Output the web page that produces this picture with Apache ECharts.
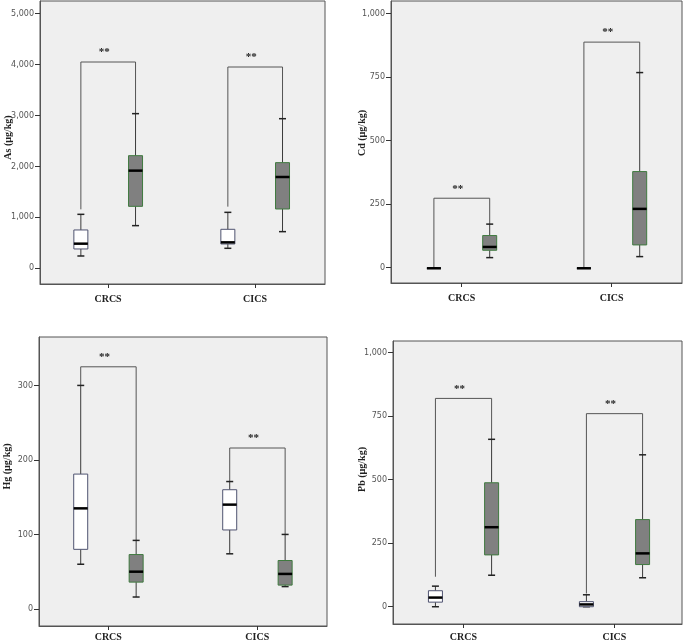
<!DOCTYPE html>
<html><head><meta charset="utf-8">
<script src="https://cdn.jsdelivr.net/npm/echarts@6/dist/echarts.min.js"></script>
<style>html,body{margin:0;padding:0;background:#fff}#c{width:685px;height:643px}</style>
</head><body><div id="c"></div>
<script>
const categories = ['CRCS', 'CICS'];
const axisNames = ['As (µg/kg)', 'Cd (µg/kg)', 'Hg (µg/kg)', 'Pb (µg/kg)'];
// box values per category: [min, Q1, median, Q3, max]
const asWhite = [[242, 380, 484, 753, 1060], [393, 478, 510, 766, 1099]];
const asGrey  = [[838, 1217, 1918, 2212, 3037], [720, 1165, 1793, 2075, 2938]];
const cdWhite = [[-3, -3, -3, -3, -3], [-3, -3, -3, -3, -3]];
const cdGrey  = [[39, 68, 81, 126, 171], [43, 89, 231, 378, 768]];
const hgWhite = [[60, 80, 135, 181, 300], [74, 106, 140, 160, 171]];
const hgGrey  = [[16, 36, 50, 73, 92], [30, 32, 47, 65, 100]];
const pbWhite = [[0, 18, 36, 63, 81], [0, 0, 9, 20, 47]];
const pbGrey  = [[124, 204, 313, 488, 659], [114, 166, 210, 343, 598]];
// significance brackets per category: [top, left leg end, right leg end]
const asSig = [[4051, 1158, 3037], [3953, 1211, 2938]];
const cdSig = [[273, 0, 171], [888, 0, 768]];
const hgSig = [[325, 300, 92], [216, 171, 100]];
const pbSig = [[820, 118, 659], [760, 52, 598]];
const sigLabel = '**';
// tick labels
const asTicks = [0, 1000, 2000, 3000, 4000, 5000];
const cdTicks = [0, 250, 500, 750, 1000];
const hgTicks = [0, 100, 200, 300];
const pbTicks = [0, 250, 500, 750, 1000];

const panels = [
  {white: asWhite, grey: asGrey, sig: asSig, ticks: asTicks, name: axisNames[0],
   grid: {left: 40, top: 1, width: 285, height: 283}, x: [0.537, 2.476], y: [-308, 5249],
   shift: 10, nameGap: 27, catMargin: 10},
  {white: cdWhite, grey: cdGrey, sig: cdSig, ticks: cdTicks, name: axisNames[1],
   grid: {left: 391, top: 1, width: 291, height: 282}, x: [0.529, 2.469], y: [-61, 1050],
   shift: 18, nameGap: 24, catMargin: 10},
  {white: hgWhite, grey: hgGrey, sig: hgSig, ticks: hgTicks, name: axisNames[2],
   grid: {left: 39, top: 337, width: 288, height: 289}, x: [0.535, 2.468], y: [-22.9, 365],
   shift: 30, nameGap: 27, catMargin: 6},
  {white: pbWhite, grey: pbGrey, sig: pbSig, ticks: pbTicks, name: axisNames[3],
   grid: {left: 393, top: 341, width: 289, height: 283}, x: [0.534, 2.448], y: [-68, 1046],
   shift: 26, nameGap: 26, catMargin: 8}
];

const OFF_W = -0.185, OFF_G = 0.187, BOX_W = 14, CAP_W = 7;

function boxRenderer(fill, border) {
  return function (params, api) {
    const cat = api.value(0);
    const px = (v) => api.coord([cat, v]);
    const mn = px(api.value(1)), q1 = px(api.value(2)), md = px(api.value(3)),
          q3 = px(api.value(4)), mx = px(api.value(5));
    const x = mn[0];
    const h = BOX_W / 2, c = CAP_W / 2;
    const wStyle = {stroke: '#3a3a3a', lineWidth: 1};
    return {type: 'group', children: [
      {type: 'line', shape: {x1: x, y1: q3[1], x2: x, y2: mx[1]}, style: wStyle},
      {type: 'line', shape: {x1: x, y1: q1[1], x2: x, y2: mn[1]}, style: wStyle},
      {type: 'line', shape: {x1: x - c, y1: mx[1], x2: x + c, y2: mx[1]}, style: {stroke: '#222', lineWidth: 1.5}},
      {type: 'line', shape: {x1: x - c, y1: mn[1], x2: x + c, y2: mn[1]}, style: {stroke: '#222', lineWidth: 1.5}},
      {type: 'rect', shape: {x: x - h, y: q3[1], width: BOX_W, height: q1[1] - q3[1]},
       style: {fill: fill, stroke: border, lineWidth: 1}},
      {type: 'line', shape: {x1: x - h, y1: md[1], x2: x + h, y2: md[1]}, style: {stroke: '#000', lineWidth: 2.5}}
    ]};
  };
}

function sigRenderer(params, api) {
  const cat = api.value(0);
  const top = api.coord([cat + OFF_W, api.value(1)]);
  const l = api.coord([cat + OFF_W, api.value(2)]);
  const r = api.coord([cat + OFF_G, api.value(3)]);
  const tr = api.coord([cat + OFF_G, api.value(1)]);
  return {type: 'group', children: [
    {type: 'polyline', shape: {points: [[l[0], l[1]], [top[0], top[1]], [tr[0], tr[1]], [r[0], r[1]]]},
     style: {stroke: '#555', lineWidth: 1, fill: null}},
    {type: 'text', x: (top[0] + tr[0]) / 2 - 4, y: top[1] - 4,
     style: {text: sigLabel, fill: '#222', font: 'bold 11px "Liberation Serif"', align: 'center', verticalAlign: 'bottom'}}
  ]};
}

const grid = [], xAxis = [], yAxis = [], series = [];
panels.forEach((p, i) => {
  grid.push(Object.assign({show: true, backgroundColor: '#efefef', borderColor: '#555', borderWidth: 1,
    containLabel: false, outerBoundsMode: 'none'}, p.grid));
  xAxis.push({
    type: 'value', gridIndex: i, min: p.x[0], max: p.x[1],
    axisLine: {show: true, onZero: false, lineStyle: {color: '#555'}},
    axisTick: {show: true, length: 4, customValues: [1, 2], lineStyle: {color: '#333'}},
    axisLabel: {customValues: [1, 2], formatter: (v) => categories[Math.round(v) - 1] || '',
      margin: p.catMargin, color: '#222', fontFamily: 'Liberation Serif', fontWeight: 'bold', fontSize: 10},
    splitLine: {show: false}
  });
  yAxis.push({
    type: 'value', gridIndex: i, min: p.y[0], max: p.y[1],
    name: p.name, nameLocation: 'middle', nameGap: p.nameGap, nameMoveOverlap: false,
    nameTextStyle: {fontFamily: 'Liberation Serif', fontWeight: 'bold', fontSize: 10, color: '#222',
      padding: [0, 0, 0, p.shift]},
    axisLine: {show: true, onZero: false, lineStyle: {color: '#555'}},
    axisTick: {show: true, length: 5, customValues: p.ticks, lineStyle: {color: '#333'}},
    axisLabel: {customValues: p.ticks, margin: 6, color: '#555', fontFamily: 'DejaVu Sans', fontSize: 8,
      formatter: (v) => v.toLocaleString('en-US')},
    splitLine: {show: false}
  });
  const mk = (arr, off) => arr.map((b, k) => [k + 1 + off].concat(b));
  series.push({type: 'custom', xAxisIndex: i, yAxisIndex: i, renderItem: boxRenderer('#ffffff', '#4f5370'),
    encode: {x: 0, y: [1, 2, 3, 4, 5]}, data: mk(p.white, OFF_W), silent: true, z: 3});
  series.push({type: 'custom', xAxisIndex: i, yAxisIndex: i, renderItem: boxRenderer('#808080', '#3f7a3f'),
    encode: {x: 0, y: [1, 2, 3, 4, 5]}, data: mk(p.grey, OFF_G), silent: true, z: 3});
  series.push({type: 'custom', xAxisIndex: i, yAxisIndex: i, renderItem: sigRenderer,
    encode: {x: 0, y: [1, 2, 3]}, data: p.sig.map((s, k) => [k + 1].concat(s)), silent: true, z: 2});
});

const chart = echarts.init(document.getElementById('c'), null, {renderer: 'canvas'});
chart.setOption({animation: false, backgroundColor: '#ffffff', grid, xAxis, yAxis, series});
</script>
</body></html>
